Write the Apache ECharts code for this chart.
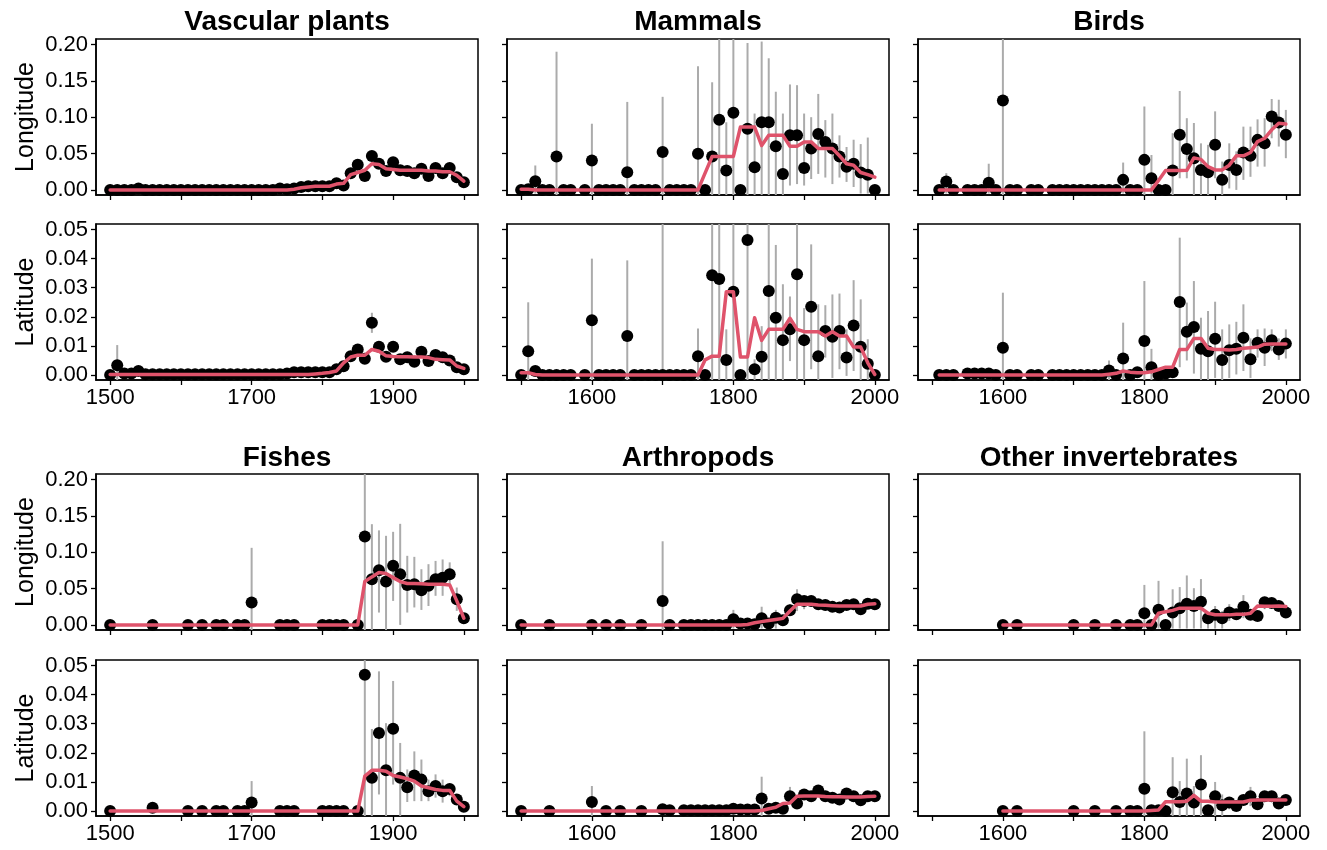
<!DOCTYPE html>
<html><head><meta charset="utf-8">
<script src="https://cdn.jsdelivr.net/npm/echarts@6/dist/echarts.min.js"></script>
<style>html,body{margin:0;padding:0;background:#fff}#c{width:1327px;height:850px}</style>
</head><body><div id="c"></div>
<script>
const YEARS = [1500,1510,1520,1530,1540,1550,1560,1570,1580,1590,
1600,1610,1620,1630,1640,1650,1660,1670,1680,1690,
1700,1710,1720,1730,1740,1750,1760,1770,1780,1790,
1800,1810,1820,1830,1840,1850,1860,1870,1880,1890,
1900,1910,1920,1930,1940,1950,1960,1970,1980,1990,2000];
const TITLES = ['Vascular plants','Mammals','Birds','Fishes','Arthropods','Other invertebrates'];
const X_TICKS = [1500,1600,1700,1800,1900,2000];
const X_LABELS_COL1 = [1500,1700,1900];
const X_LABELS_OTHER = [1600,1800,2000];
const LON_TICKS = [0,0.05,0.10,0.15,0.20];
const LAT_TICKS = [0,0.01,0.02,0.03,0.04,0.05];

// Vascular plants
const vascLon = [0,0,0,0,0.002,0,0,0,0,0,
0,0,0,0,0,0,0,0,0,0,
0,0,0,0,0.002,0.001,0.002,0.004,0.005,0.005,
0.005,0.005,0.009,0.006,0.023,0.0345,0.019,0.0465,0.036,0.026,
0.038,0.027,0.026,0.023,0.029,0.019,0.030,0.023,0.030,0.0175,0.0106];
const vascLonFit = [0,0,0,0,0,0,0,0,0,0,
0,0,0,0,0,0,0,0,0,0,
0,0,0,0,0,0,0.001,0.003,0.004,0.005,
0.005,0.005,0.008,0.009,0.021,0.024,0.027,0.036,0.035,0.029,
0.028,0.027,0.027,0.027,0.027,0.026,0.026,0.025,0.025,0.020,0.012];
const vascLonErrYears = [], vascLonErrLo = [], vascLonErrHi = [];
const vascLat = [0,0.0034,0.0005,0.0005,0.0014,0.0003,0.0003,0.0003,0.0003,0.0003,
0.0003,0.0003,0.0003,0.0003,0.0003,0.0003,0.0003,0.0003,0.0003,0.0003,
0.0003,0.0003,0.0003,0.0003,0.0003,0.0005,0.001,0.001,0.001,0.001,
0.001,0.001,0.002,0.003,0.0065,0.0088,0.0056,0.018,0.0097,0.0063,
0.0097,0.0054,0.0061,0.0046,0.0080,0.0048,0.0069,0.0061,0.0050,0.0027,0.0020];
const vascLatFit = [0.0002,0.0002,0.0002,0.0002,0.0002,0.0002,0.0002,0.0002,0.0002,0.0002,
0.0002,0.0002,0.0002,0.0002,0.0002,0.0002,0.0002,0.0002,0.0002,0.0002,
0.0002,0.0002,0.0002,0.0002,0.0002,0.0002,0.0002,0.0002,0.0002,0.0004,
0.0006,0.0009,0.0014,0.0042,0.0062,0.0068,0.0068,0.0088,0.0082,0.0066,
0.0064,0.0063,0.0063,0.0062,0.0062,0.0060,0.0054,0.0053,0.0052,0.0031,0.0023];
const vascLatErrYears = [1510,1870], vascLatErrLo = [-0.003,0.0145], vascLatErrHi = [0.0103,0.0214];

// Mammals
const mamLon = [0,0.001,0.012,0,0,0.046,0,0,null,0,
0.0405,0,0,0,0,0.0244,0,0,0,0,
0.052,0,0,0,0,0.0497,0,0.046,0.0966,0.0267,
0.106,0,0.084,0.031,0.093,0.093,0.060,0.022,0.075,0.075,
0.030,0.057,0.077,0.066,0.057,0.046,0.032,0.036,0.024,0.021,0];
const mamLonFit = [0.001,0.001,0,0,0,0,0,0,0,0,
0,0,0,0,0,0,0,0,0,0,
0,0,0,0,0,0,0.023,0.046,0.046,0.046,
0.046,0.0865,0.0865,0.0865,0.061,0.075,0.075,0.075,0.060,0.060,
0.066,0.066,0.057,0.057,0.057,0.047,0.036,0.034,0.024,0.021,0.0175];
const mamLonErrYears = [1520,1550,1600,1650,1700,1750,1770,1780,1790,1800,1820,1830,1840,1850,1860,1870,1880,1890,1900,1910,1920,1930,1940,1950,1960,1970,1980,1990];
const mamLonErrLo = [-0.005,-0.1,-0.01,-0.07,-0.02,-0.07,-0.05,-0.05,-0.04,-0.05,-0.03,-0.04,-0.02,-0.01,-0.01,-0.01,0.006,0.008,0.006,0.015,0.022,0.017,0.008,0.017,0.011,0.004,-0.005,-0.005];
const mamLonErrHi = [0.0336,0.19,0.091,0.121,0.128,0.170,0.148,0.25,0.093,0.26,0.202,0.105,0.204,0.181,0.135,0.105,0.145,0.144,0.105,0.100,0.132,0.096,0.105,0.075,0.059,0.069,0.063,0.072];
const mamLat = [0,0.0082,0.0014,0,0,0,0,0,null,0,
0.0188,0,0,0,0,0.0134,0,0,0,0,
0,0,0,0,0,0.0065,0,0.0343,0.033,0.0052,
0.0286,0,0.0464,0.002,0.0063,0.0289,0.0197,0.012,0.0157,0.0346,
0.012,0.0235,0.0065,0.0151,0.0132,0.0151,0.006,0.017,0.0097,0.0039,0];
const mamLatFit = [0.0008,0.0008,0.0002,0,0,0,0,0,0,0,
0,0,0,0,0,0,0,0,0,0,
0,0,0,0,0,0,0.0052,0.0065,0.0065,0.0286,
0.0286,0.0062,0.0062,0.0197,0.0119,0.0157,0.0157,0.0157,0.0195,0.0157,
0.0149,0.0149,0.0149,0.0134,0.0149,0.0134,0.0134,0.0096,0.0096,0.0042,0.0002];
const mamLatErrYears = [1510,1600,1650,1700,1750,1770,1780,1790,1800,1820,1830,1840,1850,1860,1870,1880,1890,1900,1910,1920,1930,1940,1950,1960,1970,1980,1990];
const mamLatErrLo = [-0.005,-0.01,-0.01,-0.06,-0.005,-0.05,-0.05,-0.005,-0.05,-0.05,-0.005,-0.005,-0.05,-0.005,-0.005,0.0048,-0.05,-0.005,0.002,-0.005,0.006,-0.001,0.002,-0.0003,0.0014,-0.005,-0.005];
const mamLatErrHi = [0.025,0.040,0.0394,0.08,0.016,0.09,0.09,0.0157,0.09,0.09,0.0054,0.0168,0.09,0.0447,0.0312,0.027,0.09,0.023,0.0449,0.0243,0.024,0.0277,0.028,0.0157,0.0326,0.026,0.0123];

// Birds
const birdLon = [null,0,0.0115,0,null,0,0,0,0.010,0,
0.123,0,0,null,0,0,null,0,0,0,
0,0,0,0,0,0,0,0.0138,0,0,
0.0413,0.016,0,0,0.0266,0.0757,0.0564,0.0436,0.0275,0.0243,
0.062,0.0138,0.0344,0.0275,0.0514,0.0468,0.0688,0.064,0.101,0.0927,0.0757];
const birdLonFit = [null,0,0,0,0,0,0,0,0,0,
0,0,0,0,0,0,0,0,0,0,
0,0,0,0,0,0,0,0,0,0,
0,0,0.013,0.0266,0.0266,0.0266,0.027,0.044,0.042,0.032,
0.0275,0.0275,0.034,0.0468,0.0468,0.0514,0.0665,0.071,0.0826,0.0917,0.0905];
const birdLonErrYears = [1520,1580,1600,1770,1800,1810,1840,1850,1860,1870,1880,1890,1900,1910,1920,1930,1940,1950,1960,1970,1980,1990,2000];
const birdLonErrLo = [-0.005,-0.005,-0.05,-0.005,-0.02,-0.005,-0.01,0.016,0.016,-0.01,-0.01,-0.01,0.016,-0.01,0.002,0,0.0138,0.018,0.032,0.032,0.071,0.0596,0.0436];
const birdLonErrHi = [0.023,0.036,0.3,0.0376,0.1147,0.048,0.078,0.136,0.0986,0.092,0.064,0.062,0.108,0.039,0.064,0.053,0.087,0.087,0.097,0.0986,0.125,0.124,0.11];
const birdLat = [null,0,0,0,null,0.0005,0.0005,0.0005,0.0005,0,
0.0094,0,0,null,0,0,null,0,0,0,
0,0,0,0,0,0.0016,0,0.0057,0,0.001,
0.0117,0.0027,0,0.0005,0.001,0.0251,0.0149,0.0165,0.009,0.0082,
0.0125,0.0052,0.0085,0.009,0.0128,0.0054,0.0111,0.0094,0.012,0.0088,0.0108];
const birdLatFit = [null,0,0,0,0,0,0,0,0,0,
0,0,0,0,0,0,0,0,0,0,
0,0,0,0,0,0.0003,0.0006,0.0014,0.0010,0.0008,
0.0008,0.0011,0.0019,0.0027,0.0027,0.0088,0.0088,0.0126,0.0126,0.0092,
0.0088,0.0088,0.0086,0.0088,0.0092,0.0094,0.0096,0.0106,0.0107,0.0107,0.0107];
const birdLatErrYears = [1600,1750,1770,1800,1810,1850,1860,1870,1880,1890,1900,1910,1920,1930,1940,1950,1960,1970,1980,1990,2000];
const birdLatErrLo = [-0.005,-0.005,-0.005,-0.005,-0.005,0.0027,0.005,0.0005,-0.005,-0.005,-0.001,-0.005,-0.001,0.0002,0.0014,-0.001,0.006,0.0031,0.0082,0.0052,0.0057];
const birdLatErrHi = [0.0283,0.005,0.018,0.0323,0.009,0.0472,0.0249,0.0323,0.0197,0.022,0.0252,0.0157,0.0174,0.0183,0.0243,0.0126,0.0157,0.016,0.0157,0.0126,0.0157];

// Fishes
const fishLon = [0,null,null,null,null,null,0,null,null,null,
null,0,null,0,null,0,0,null,0,0,
0.0307,null,null,null,0,0,0,null,null,null,
0,0,0,0,null,0,0.1216,0.0628,0.0752,0.0596,
0.0812,0.0697,0.055,0.056,0.0477,0.0537,0.0628,0.065,0.0697,0.0353,0.0092];
const fishLonFit = [0,0,0,0,0,0,0,0,0,0,
0,0,0,0,0,0,0,0,0,0,
0,0,0,0,0,0,0,0,0,0,
0,0,0,0,0,0,0.0596,0.066,0.072,0.0706,
0.065,0.0596,0.0569,0.0569,0.0565,0.056,0.056,0.056,0.055,0.033,0.0092];
const fishLonErrYears = [1700,1860,1870,1880,1890,1900,1910,1920,1930,1940,1950,1960,1970,1980,1990];
const fishLonErrLo = [-0.01,-0.05,-0.01,0.017,-0.01,0.033,0,0.017,0.024,0.0206,0.026,0.04,0.04,0.0537,0.0193];
const fishLonErrHi = [0.106,0.3,0.1385,0.130,0.1225,0.128,0.139,0.095,0.0936,0.0766,0.0835,0.088,0.090,0.086,0.0514];
const fishLat = [0,null,null,null,null,null,0.0011,null,null,null,
null,0,null,0,null,0,0,null,0,0,
0.0029,null,null,null,0,0,0,null,null,null,
0,0,0,0,null,0,0.0468,0.0114,0.0268,0.014,
0.0283,0.0114,0.0082,0.0122,0.0108,0.0068,0.0086,0.0068,0.0076,0.004,0.0015];
const fishLatFit = [0,0,0,0,0,0,0,0,0,0,
0,0,0,0,0,0,0,0,0,0,
0,0,0,0,0,0,0,0,0,0,
0,0,0,0,0,0,0.012,0.014,0.014,0.0137,
0.0122,0.0117,0.0111,0.0103,0.0086,0.008,0.0074,0.0071,0.0071,0.0034,0.0015];
const fishLatErrYears = [1700,1860,1870,1880,1890,1900,1910,1920,1930,1940,1950,1960,1970,1980];
const fishLatErrLo = [-0.005,-0.05,-0.005,0.0057,-0.005,0.0091,-0.005,0.0031,0.0034,0.0034,0.0034,0.0046,0.0029,0.0051];
const fishLatErrHi = [0.0103,0.09,0.0282,0.048,0.0302,0.0447,0.0234,0.0143,0.0205,0.0177,0.0108,0.0126,0.0108,0.0091];

// Arthropods
const arthLon = [0,null,null,null,0,null,null,null,null,null,
0,null,0,null,0,null,null,0,null,null,
0.033,0,null,0,0,0,0,0,0,0,
0.0078,0.002,0.002,0.001,0.009,0.002,0.010,0.0064,0.020,0.0353,
0.033,0.033,0.0285,0.0275,0.0248,0.024,0.0275,0.0285,0.0216,0.029,0.0285];
const arthLonFit = [0,0,0,0,0,0,0,0,0,0,
0,0,0,0,0,0,0,0,0,0,
0,0,0,0,0,0,0,0,0,0,
0,0,0.0005,0.003,0.0045,0.006,0.0075,0.009,0.019,0.0285,
0.0285,0.0285,0.0275,0.027,0.0265,0.026,0.026,0.026,0.026,0.0285,0.029];
const arthLonErrYears = [1700,1800,1840,1860,1880,1890,1900];
const arthLonErrLo = [-0.01,-0.005,-0.005,-0.005,0.0124,0.019,0.0216];
const arthLonErrHi = [0.115,0.0207,0.025,0.0207,0.0285,0.049,0.0376];
const arthLat = [0,null,null,null,0,null,null,null,null,null,
0.0031,null,0,null,0,null,null,0,null,null,
0.0006,0.0003,null,0.0003,0.0003,0.0003,0.0003,0.0003,0.0003,0.0003,
0.0008,0.0005,0.0005,0.0005,0.0043,0.0008,0.0011,0.0008,0.0051,0.0026,
0.0057,0.0051,0.0071,0.0051,0.0046,0.004,0.006,0.0051,0.0037,0.0051,0.0051];
const arthLatFit = [0,0,0,0,0,0,0,0,0,0,
0,0,0,0,0,0,0,0,0,0,
0,0,0,0,0,0,0,0,0,0,
0,0,0,0,0.0002,0.0008,0.0013,0.0026,0.0028,0.0051,
0.0052,0.0052,0.0052,0.005,0.0049,0.0049,0.0048,0.0048,0.0048,0.005,0.0051];
const arthLatErrYears = [1600,1840,1880];
const arthLatErrLo = [-0.005,-0.005,0.0028];
const arthLatErrHi = [0.0086,0.0118,0.0083];

// Other invertebrates
const invLon = [null,null,null,null,null,null,null,null,null,null,
0,null,0,null,null,null,null,null,null,null,
0,null,null,0,null,null,0,null,0,0,
0.016,0,0.0207,0,0.017,0.023,0.029,0.026,0.032,0.0092,
0.0138,0.0092,0.017,0.0147,0.025,0.0138,0.0124,0.031,0.030,0.026,0.017];
const invLonFit = [null,null,null,null,null,null,null,null,null,null,
0,0,0,0,0,0,0,0,0,0,
0,0,0,0,0,0,0,0,0,0,
0,0,0.016,0.018,0.020,0.023,0.023,0.023,0.023,0.016,
0.014,0.0138,0.0138,0.0145,0.0145,0.016,0.026,0.0255,0.0255,0.026,0.0252];
const invLonErrYears = [1800,1820,1840,1850,1860,1870,1880,1890,1900,1910,1920,1940,1970];
const invLonErrLo = [-0.005,-0.005,-0.005,-0.005,-0.005,-0.005,-0.005,-0.005,-0.005,-0.005,0.0055,0.0092,0.0216];
const invLonErrHi = [0.055,0.0606,0.049,0.052,0.068,0.0505,0.063,0.017,0.026,0.019,0.0285,0.041,0.0386];
const invLat = [null,null,null,null,null,null,null,null,null,null,
0,null,0,null,null,null,null,null,null,null,
0,null,null,0,null,null,0,null,0,0,
0.0077,0.0003,0.0003,0,0.0065,0.0031,0.006,0.0029,0.0091,0.0003,
0.0051,0.002,0.0029,0.0017,0.0038,0.0051,0.0023,0.0051,0.0051,0.0026,0.0038];
const invLatFit = [null,null,null,null,null,null,null,null,null,null,
0,0,0,0,0,0,0,0,0,0,
0,0,0,0,0,0,0,0,0,0,
0,0.0002,0.0004,0.0032,0.0032,0.0032,0.0034,0.0054,0.0034,0.0034,
0.0031,0.0031,0.0031,0.0031,0.0031,0.0037,0.0038,0.0038,0.0038,0.0038,0.0038];
const invLatErrYears = [1800,1840,1850,1860,1870,1880,1900,1910,1920,1950];
const invLatErrLo = [-0.005,-0.005,-0.005,-0.005,-0.005,-0.005,-0.005,-0.005,0.0006,0.0017];
const invLatErrHi = [0.0274,0.0185,0.0103,0.018,0.0086,0.0192,0.010,0.0057,0.004,0.0083];

// ---------- build ----------
const FONT = '"Liberation Sans", Arial, Helvetica, sans-serif';
const COL_LEFT = [96, 507, 918];
const ROW_TOP = [39, 224, 474, 660];
const PW = 382, PH = 156;
const LON_RANGE = [-0.0070, 0.2075];
const LAT_RANGE = [-0.0017, 0.0519];

const panels = [
  {row:0,col:0,k:'lon',v:vascLon,f:vascLonFit,ey:vascLonErrYears,el:vascLonErrLo,eh:vascLonErrHi},
  {row:0,col:1,k:'lon',v:mamLon,f:mamLonFit,ey:mamLonErrYears,el:mamLonErrLo,eh:mamLonErrHi},
  {row:0,col:2,k:'lon',v:birdLon,f:birdLonFit,ey:birdLonErrYears,el:birdLonErrLo,eh:birdLonErrHi},
  {row:1,col:0,k:'lat',v:vascLat,f:vascLatFit,ey:vascLatErrYears,el:vascLatErrLo,eh:vascLatErrHi},
  {row:1,col:1,k:'lat',v:mamLat,f:mamLatFit,ey:mamLatErrYears,el:mamLatErrLo,eh:mamLatErrHi},
  {row:1,col:2,k:'lat',v:birdLat,f:birdLatFit,ey:birdLatErrYears,el:birdLatErrLo,eh:birdLatErrHi},
  {row:2,col:0,k:'lon',v:fishLon,f:fishLonFit,ey:fishLonErrYears,el:fishLonErrLo,eh:fishLonErrHi},
  {row:2,col:1,k:'lon',v:arthLon,f:arthLonFit,ey:arthLonErrYears,el:arthLonErrLo,eh:arthLonErrHi},
  {row:2,col:2,k:'lon',v:invLon,f:invLonFit,ey:invLonErrYears,el:invLonErrLo,eh:invLonErrHi},
  {row:3,col:0,k:'lat',v:fishLat,f:fishLatFit,ey:fishLatErrYears,el:fishLatErrLo,eh:fishLatErrHi},
  {row:3,col:1,k:'lat',v:arthLat,f:arthLatFit,ey:arthLatErrYears,el:arthLatErrLo,eh:arthLatErrHi},
  {row:3,col:2,k:'lat',v:invLat,f:invLatFit,ey:invLatErrYears,el:invLatErrLo,eh:invLatErrHi}
];

const grid = [], xAxis = [], yAxis = [], series = [];
panels.forEach((p, i) => {
  grid.push({left: COL_LEFT[p.col], top: ROW_TOP[p.row], width: PW, height: PH,
    show: true, borderColor: '#000', borderWidth: 1.5, backgroundColor: 'transparent'});
  const isLat = p.k === 'lat';
  xAxis.push({type: 'value', gridIndex: i, min: 1480, max: 2020,
    splitLine: {show: false},
    axisLine: {show: true, onZero: false, lineStyle: {color: '#000', width: 1.5}},
    axisTick: {show: true, length: 5, customValues: X_TICKS, lineStyle: {color: '#000', width: 1.3}},
    axisLabel: {show: isLat, margin: 7, color: '#000', fontSize: 22, fontFamily: FONT,
      customValues: p.col === 0 ? X_LABELS_COL1 : X_LABELS_OTHER, formatter: v => String(v)}
  });
  const rng = isLat ? LAT_RANGE : LON_RANGE;
  yAxis.push({type: 'value', gridIndex: i, min: rng[0], max: rng[1],
    splitLine: {show: false},
    name: p.col === 0 ? (isLat ? 'Latitude' : 'Longitude') : '',
    nameLocation: 'middle', nameGap: 57, nameRotate: 90,
    nameTextStyle: {color: '#000', fontSize: 25, fontFamily: FONT},
    axisLine: {show: true, onZero: false, lineStyle: {color: '#000', width: 1.5}},
    axisTick: {show: true, length: 5, customValues: isLat ? LAT_TICKS : LON_TICKS, lineStyle: {color: '#000', width: 1.3}},
    axisLabel: {show: p.col === 0, margin: 8, color: '#000', fontSize: 22, fontFamily: FONT,
      customValues: isLat ? LAT_TICKS : LON_TICKS, formatter: v => v.toFixed(2)}
  });
  const errData = p.ey.map((y, k) => [y, p.el[k], p.eh[k]]);
  series.push({type: 'custom', xAxisIndex: i, yAxisIndex: i, silent: true, z: 2,
    data: errData,
    renderItem: function (params, api) {
      const x = api.value(0), lo = api.value(1), hi = api.value(2);
      const a = api.coord([x, lo]), b = api.coord([x, hi]);
      const cs = params.coordSys;
      const top = cs.y, bot = cs.y + cs.height;
      const y1 = Math.min(Math.max(a[1], top), bot);
      const y2 = Math.min(Math.max(b[1], top), bot);
      return {type: 'line', shape: {x1: a[0], y1: y1, x2: a[0], y2: y2},
        style: {stroke: '#ababab', lineWidth: 2}};
    }
  });
  const pts = [];
  YEARS.forEach((y, k) => { if (p.v[k] !== null) pts.push([y, p.v[k]]); });
  series.push({type: 'scatter', xAxisIndex: i, yAxisIndex: i, silent: true, z: 3,
    symbol: 'circle', symbolSize: 12, itemStyle: {color: '#000', opacity: 1}, data: pts});
  const fit = [];
  YEARS.forEach((y, k) => { if (p.f[k] !== null) fit.push([y, p.f[k]]); });
  series.push({type: 'line', xAxisIndex: i, yAxisIndex: i, silent: true, z: 4,
    showSymbol: false, symbol: 'none', data: fit,
    lineStyle: {color: '#DF536B', width: 3.5, join: 'round', cap: 'round'}});
});

const graphic = TITLES.map((t, j) => ({
  type: 'text', silent: true,
  x: COL_LEFT[j % 3] + PW / 2,
  y: j < 3 ? 22 : 458,
  style: {text: t, textAlign: 'center', textVerticalAlign: 'middle',
    fontSize: 28, fontWeight: 'bold', fontFamily: FONT, fill: '#000'}
}));

const chart = echarts.init(document.getElementById('c'), null, {renderer: 'canvas'});
chart.setOption({animation: false, backgroundColor: '#fff', grid, xAxis, yAxis, series, graphic});
</script>
</body></html>
